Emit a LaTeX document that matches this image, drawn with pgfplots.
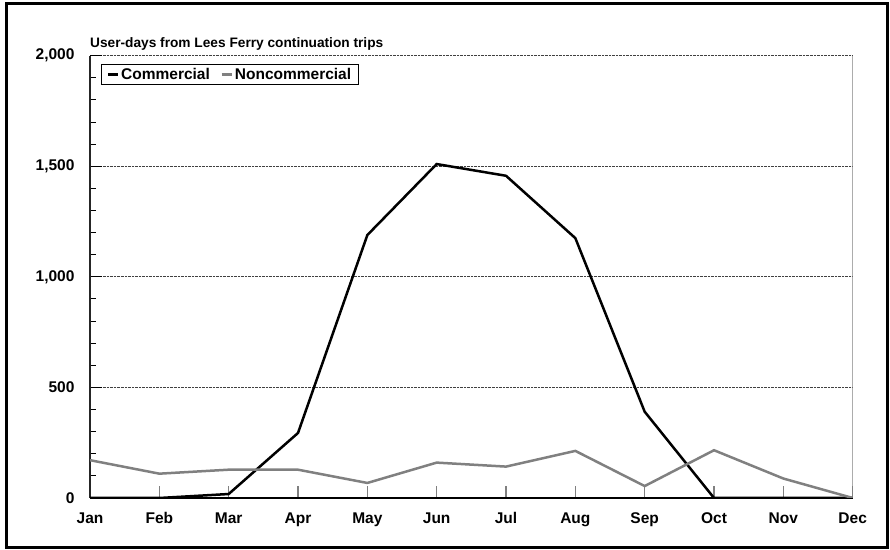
\documentclass[border=0pt]{standalone}
\usepackage{pgfplots}
\pgfplotsset{compat=1.18}
\usepackage{fontspec}
\setmainfont{Liberation Sans}
\definecolor{ncgray}{RGB}{128,128,128}
\begin{document}
\begin{tikzpicture}
\useasboundingbox (0,0) rectangle (890bp,550bp);
\draw[line width=3bp] (6bp,2.5bp) rectangle (887bp,546bp);
\node[anchor=base west, inner sep=0pt, font=\fontsize{13.7bp}{16bp}\selectfont\bfseries] at (90bp,502bp) {User-days from Lees Ferry continuation trips};
\begin{axis}[
  at={(90bp,52bp)}, anchor=south west,
  scale only axis, width=762.7bp, height=442.3bp,
  xmin=0, xmax=11, ymin=0, ymax=2000,
  axis x line=bottom, axis y line=left,
  axis line style={-, line width=1.5bp},
  x axis line style={black},
  y axis line style={black!85},
  xtick={0,1,...,11},
  xticklabels={Jan,Feb,Mar,Apr,May,Jun,Jul,Aug,Sep,Oct,Nov,Dec},
  ytick={0,500,1000,1500,2000},
  minor y tick num=4,
  tick align=inside,
  major tick length=12bp, minor tick length=6bp,
  x tick style={ncgray, line width=1.2bp},
  y tick style={black, line width=1bp},
  ymajorgrids,
  major grid style={densely dotted, black!75, line width=0.8bp},
  tick label style={font=\fontsize{15.5bp}{18bp}\selectfont\bfseries},
  yticklabel style={xshift=-12bp},
  xticklabel style={yshift=-11bp},
  /pgf/number format/assume math mode=true,
  /pgf/number format/1000 sep={,},
  legend style={at={(0.014,0.981)}, anchor=north west, draw=black, line width=1bp,
    font=\fontsize{15.5bp}{18bp}\selectfont\bfseries,
    inner xsep=5.5bp, inner ysep=1.5bp,
    /tikz/every even column/.append style={column sep=8.5bp},
    cells={anchor=west}},
  legend columns=-1,
  legend image code/.code={\draw[#1, line width=2.5bp] (2.3bp,0bp) -- (12.3bp,0bp);},
]
\addplot[black, line width=2.5bp] coordinates {
(0,0) (1,0) (2,18) (3,294) (4,1189) (5,1510) (6,1457) (7,1175) (8,390) (9,0) (10,0) (11,0)};
\addlegendentry{Commercial}
\addplot[ncgray, line width=2.5bp] coordinates {
(0,171) (1,110) (2,128) (3,128) (4,68) (5,160) (6,142) (7,213) (8,54) (9,216) (10,88) (11,0)};
\addlegendentry{Noncommercial}
\draw[ncgray, line width=1.5bp] (rel axis cs:1,0) -- (rel axis cs:1,1);
\end{axis}
\end{tikzpicture}
\end{document}
